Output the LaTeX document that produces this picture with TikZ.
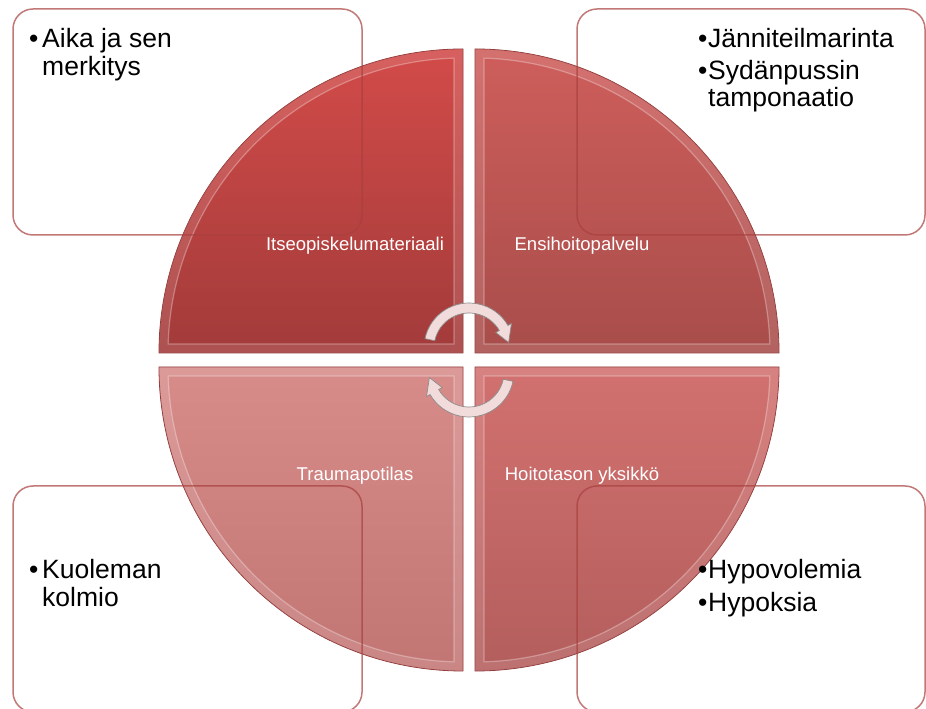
\documentclass[tikz,border=0pt]{standalone}
\usepackage{fontspec}
\setmainfont{Liberation Sans}
\usetikzlibrary{calc}
\definecolor{boxline}{HTML}{A8403E}
\definecolor{quadedge}{HTML}{8E3332}
\definecolor{tlTop}{HTML}{D24B49}
\definecolor{tlBot}{HTML}{A23B3A}
\definecolor{trTop}{HTML}{CE5E5B}
\definecolor{trBot}{HTML}{A84D4B}
\definecolor{blTop}{HTML}{D78C8A}
\definecolor{blBot}{HTML}{C27674}
\definecolor{brTop}{HTML}{D2716F}
\definecolor{brBot}{HTML}{B35E5D}
\definecolor{arrowfill}{HTML}{F2DCDB}
\definecolor{arrowline}{HTML}{8C8C8C}
\begin{document}
\begin{tikzpicture}[x=1pt,y=1pt,
  boxfill/.style={fill=white, rounded corners=20pt},
  boxedge/.style={draw=boxline, draw opacity=0.7, line width=1.5pt, rounded corners=20pt},
  maintext/.style={anchor=base west, inner sep=0pt, font=\fontsize{26.5}{30}\selectfont, text=black},
  qlabel/.style={anchor=base, inner sep=0pt, font=\fontsize{18.5}{20}\selectfont, text=white},
  quad/.style={draw=quadedge, line width=0.8pt},
  bevelband/.style={fill=white, fill opacity=0.12, even odd rule},
  bevelline/.style={draw=white, draw opacity=0.3, line width=1.2pt},
  cyc/.style={fill=arrowfill, draw=arrowline, line width=0.7pt}]
\useasboundingbox (0,0) rectangle (926,709);

% white box backgrounds
\path[boxfill] (13,474) rectangle (362,700);
\path[boxfill] (577,474) rectangle (925,700);
\path[boxfill] (13,-3) rectangle (362,223);
\path[boxfill] (577,-3) rectangle (925,223);

% quadrants
\path[quad, top color=tlTop, bottom color=tlBot]
  (463,356) -- (159,356) arc[start angle=180, end angle=90, radius=304pt] -- cycle;
\path[quad, top color=trTop, bottom color=trBot]
  (475,356) -- (475,660) arc[start angle=90, end angle=0, radius=304pt] -- cycle;
\path[quad, top color=blTop, bottom color=blBot]
  (463,342) -- (463,38) arc[start angle=270, end angle=180, radius=304pt] -- cycle;
\path[quad, top color=brTop, bottom color=brBot]
  (475,342) -- (779,342) arc[start angle=0, end angle=-90, radius=304pt] -- cycle;

% bevels
\foreach \sx/\sy/\rot in {463/356/0, 475/356/-90, 475/342/180, 463/342/90}{
  \begin{scope}[shift={(\sx,\sy)}, rotate=\rot]
    \path[bevelband] (0,0) -- (-304,0) arc[start angle=180, end angle=90, radius=304pt] -- cycle
      (-9,9) -- (-294.86,9) arc[start angle=178.25, end angle=91.75, radius=295pt] -- cycle;
    \path[bevelline] (-9,9) -- (-294.86,9) arc[start angle=178.25, end angle=91.75, radius=295pt] -- cycle;
  \end{scope}
}

% box outlines on top
\path[boxedge] (13,474) rectangle (362,700);
\path[boxedge] (577,474) rectangle (925,700);
\path[boxedge] (13,-3) rectangle (362,223);
\path[boxedge] (577,-3) rectangle (925,223);

% circular arrows
\begin{scope}[shift={(469,361)}]
  \path[cyc] (168:45pt) arc[start angle=168, end angle=30, radius=45pt] -- (30:49pt) -- (8:40pt)
    -- (30:31pt) -- (30:35pt) arc[start angle=30, end angle=168, radius=35pt] -- cycle;
\end{scope}
\begin{scope}[shift={(469,337)}, rotate=180]
  \path[cyc] (168:45pt) arc[start angle=168, end angle=30, radius=45pt] -- (30:49pt) -- (8:40pt)
    -- (30:31pt) -- (30:35pt) arc[start angle=30, end angle=168, radius=35pt] -- cycle;
\end{scope}

% quadrant labels
\node[qlabel] (l1) at (355,458) {Itseopiskelumateriaali};
\node[qlabel] (l2) at (582,458) {Ensihoitopalvelu};
\node[qlabel] (l3) at (355,228) {Traumapotilas};
\node[qlabel] (l4) at (582,228) {Hoitotason yksikkö};

% box texts
\node[maintext] (a0) at (29,661) {•};
\node[maintext] (a1) at (42,661) {Aika ja sen};
\node[maintext] (a2) at (42,633) {merkitys};

\node[maintext] (b0) at (698,661) {•};
\node[maintext] (b1) at (708,661) {Jänniteilmarinta};
\node[maintext] (b2) at (698,629) {•};
\node[maintext] (b3) at (708,629) {Sydänpussin};
\node[maintext] (b4) at (708,602) {tamponaatio};

\node[maintext] (c0) at (29,130) {•};
\node[maintext] (c1) at (42,130) {Kuoleman};
\node[maintext] (c2) at (42,102) {kolmio};

\node[maintext] (d0) at (698,130) {•};
\node[maintext] (d1) at (708,130) {Hypovolemia};
\node[maintext] (d2) at (698,97) {•};
\node[maintext] (d3) at (708,97) {Hypoksia};
\end{tikzpicture}
\end{document}
